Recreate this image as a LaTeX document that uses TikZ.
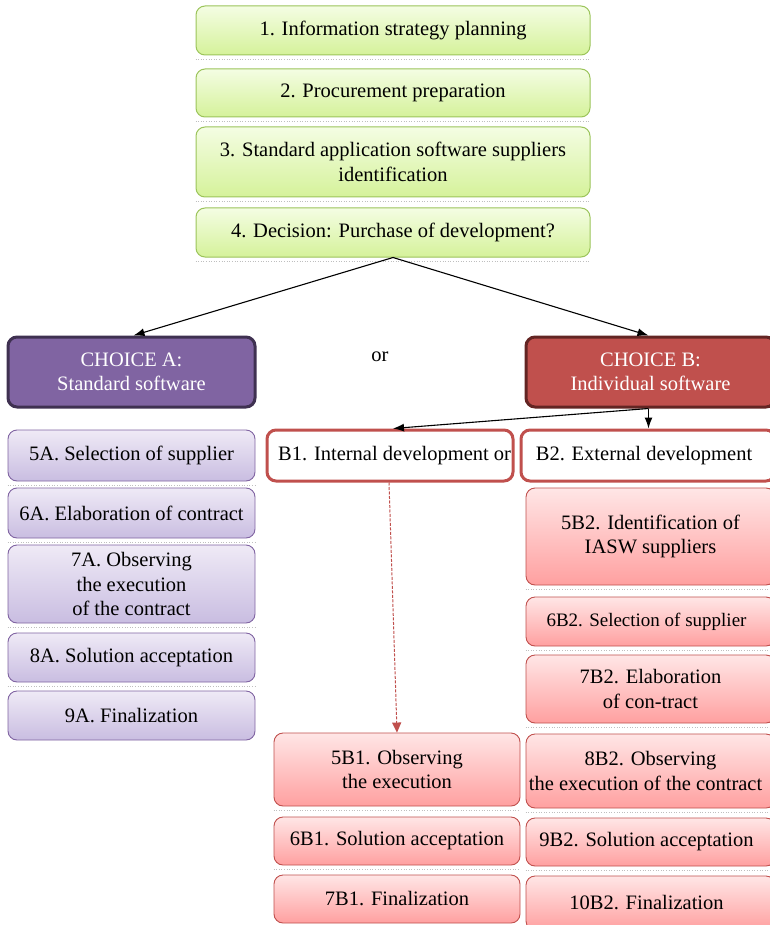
\documentclass[tikz,border=0pt]{standalone}
\usepackage{fontspec}
\setmainfont{Liberation Serif}
\usetikzlibrary{arrows.meta}
\definecolor{gtop}{HTML}{F4FDE3}
\definecolor{gbot}{HTML}{D5F29A}
\definecolor{gline}{HTML}{9BC45A}
\definecolor{ptop}{HTML}{EFEAF6}
\definecolor{pbot}{HTML}{C9BDE1}
\definecolor{pline}{HTML}{8064A2}
\definecolor{pfill}{HTML}{8064A2}
\definecolor{pdark}{HTML}{3F3151}
\definecolor{rtop}{HTML}{FFE6E6}
\definecolor{rbot}{HTML}{FFA0A0}
\definecolor{rline}{HTML}{C0504D}
\definecolor{rfill}{HTML}{C0504D}
\definecolor{rdark}{HTML}{632523}
\tikzset{
  base/.style={rounded corners=9pt, align=center, inner sep=1pt, font=\fontsize{20.5}{24.5}\selectfont},
  greenbox/.style={base, draw=gline, line width=1pt, top color=gtop, bottom color=gbot},
  purplebox/.style={base, draw=pline, line width=0.9pt, top color=ptop, bottom color=pbot},
  redbox/.style={base, draw=rline, line width=0.9pt, top color=rtop, bottom color=rbot},
  choicea/.style={base, draw=pdark, line width=3pt, fill=pfill, text=white},
  choiceb/.style={base, draw=rdark, line width=3pt, fill=rfill, text=white},
  whitebox/.style={base, draw=rline, line width=3pt, fill=white},
  conn/.style={line width=1.1pt, -{Latex[length=11pt,width=8pt]}},
  dconn/.style={draw=rline, line width=1pt, dash pattern=on 3pt off 1.5pt, -{Triangle[length=10pt,width=9pt]}},
  shadowline/.style={draw=black!25, line width=0.6pt, dotted}
}
\newcommand\bx[7]{\node[#6, minimum width={(#4)-(#2)}, minimum height={(#5)-(#3)}] (#1) at ({((#2)+(#4))/2},{((#3)+(#5))/2}) {#7};}
\begin{document}
\begin{tikzpicture}[x=1pt,y=-1pt]
\useasboundingbox (0,0) rectangle (769,925);
% green column
\bx{s1}{196}{6}{590}{55}{greenbox}{1. Information strategy planning}
\bx{s2}{196}{69}{590}{117}{greenbox}{2. Procurement preparation}
\bx{s3}{196}{127}{590}{197}{greenbox}{3. Standard application software suppliers\\identification}
\bx{s4}{196}{208}{590}{257}{greenbox}{4. Decision: Purchase of development?}
% choices
\bx{ca}{8}{337}{255}{407}{choicea}{CHOICE A:\\Standard software}
\bx{cb}{526}{337}{775}{407}{choiceb}{CHOICE B:\\Individual software}
\node[font=\fontsize{20.5}{24.5}\selectfont] (or1) at (380,357) {or};
% B1 / B2
\bx{b1}{267}{430}{513}{481}{whitebox}{\hspace*{9pt}B1. Internal development\hspace{5pt}or}
\bx{b2}{521}{430}{775}{481}{whitebox}{\hspace*{-8pt}B2. External development}
% purple column
\bx{a5}{8}{430}{255}{481}{purplebox}{5A. Selection of supplier}
\bx{a6}{8}{488}{255}{538}{purplebox}{6A. Elaboration of contract}
\bx{a7}{8}{545}{255}{623}{purplebox}{7A. Observing\\the execution\\of the contract}
\bx{a8}{8}{633}{255}{682}{purplebox}{8A. Solution acceptation}
\bx{a9}{8}{691}{255}{740}{purplebox}{9A. Finalization}
% red right column
\bx{c5}{526}{488}{775}{585}{redbox}{5B2. Identification of\\IASW suppliers}
\bx{c6}{526}{597}{775}{646}{redbox}{\fontsize{19}{22}\selectfont\hspace*{-8pt}6B2. Selection of supplier}
\bx{c7}{526}{655}{775}{723}{redbox}{7B2. Elaboration\\of con-tract}
\bx{c8}{526}{734}{775}{808}{redbox}{8B2. Observing\\\hspace*{-10pt}the execution of the contract}
\bx{c9}{526}{818}{775}{866}{redbox}{\hspace*{-8pt}9B2. Solution acceptation}
\bx{c10}{526}{876}{775}{930}{redbox}{\hspace*{-8pt}10B2. Finalization}
% red middle column
\bx{d5}{274}{733}{520}{806}{redbox}{5B1. Observing\\the execution}
\bx{d6}{274}{817}{520}{865}{redbox}{6B1. Solution acceptation}
\bx{d7}{274}{875}{520}{923}{redbox}{7B1. Finalization}
% faint lines under boxes
\foreach \n in {s1,s2,s3,s4,a5,a6,a7,a8,c5,c6,c7,c8,c9,d5,d6}{
  \draw[shadowline] ([yshift=-4pt]\n.south west) -- ([yshift=-4pt]\n.south east);
}
% connectors
\draw[conn] (s4.south) -- ([xshift=2pt]ca.north);
\draw[conn] (s4.south) -- ([xshift=-2pt]cb.north);
\draw[conn] ([xshift=-2pt]cb.south) -- ([xshift=3pt]b1.north);
\draw[conn] ([xshift=-2pt]cb.south) -- ([xshift=-2pt]cb.south |- b2.north);
\draw[dconn] ([xshift=-1pt]b1.south) -- (d5.north);
\end{tikzpicture}
\end{document}
